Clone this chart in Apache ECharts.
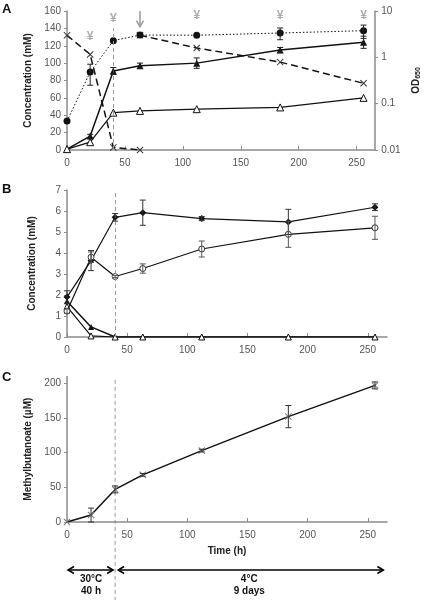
<!DOCTYPE html>
<html>
<head>
<meta charset="utf-8">
<script src="https://cdn.jsdelivr.net/npm/echarts@6/dist/echarts.min.js"></script>
<style>
html,body{margin:0;padding:0;background:#fff;}
#c{width:430px;height:600px;}
</style>
</head>
<body>
<div id="c"></div>
<script>
// ---------- DATA ----------
const hours = [0, 20, 40, 63, 112, 184, 256];
const xTicks = [0, 50, 100, 150, 200, 250];

// Panel A (mM, left axis)
const aFilledTri = [1, 16, 91, 97, 100, 115, 124];
const aFilledTriErr = [0, 2, 4, 3, 6, 3, 7];
const aOpenTri = [1, 9, 43, 45, 47, 49, 60];
const aCrossHours = [0, 20, 40, 63];
const aCross = [132, 110, 3, 0];
// Panel A (OD650, right log axis)
const aOD = [0.042, 0.48, 2.29, 3.03, 3.0, 3.35, 3.76];
const aODErr = [0, 0.23, 0, 0, 0, 0.95, 1.2];
const aODCrossHours = [63, 112, 184, 256];
const aODCross = [3.0, 1.59, 0.79, 0.275];
const aYTicks = [0, 20, 40, 60, 80, 100, 120, 140, 160];
const aMarkHours = [20, 40, 112, 184, 256];
const aMarkLevel = [130, 151, 155, 155, 155];
const aArrowHour = 63;

// Panel B (mM)
const bFilled = [1.9, 3.64, 5.7, 5.92, 5.64, 5.48, 6.18];
const bFilledErr = [0.3, 0.48, 0.18, 0.6, 0.1, 0.6, 0.16];
const bOpen = [1.23, 3.8, 2.88, 3.26, 4.19, 4.89, 5.2];
const bOpenErr = [0.1, 0.25, 0.05, 0.22, 0.38, 0.62, 0.55];
const bFilledTri = [1.7, 0.48, 0, 0, 0, 0, 0];
const bOpenTri = [1.45, 0.05, 0, 0, 0, 0, 0];
const bYTicks = [0, 1, 2, 3, 4, 5, 6, 7];

// Panel C (µM)
const cMethyl = [0, 10, 47, 68, 103, 152, 197];
const cMethylErr = [0, 10, 5, 2, 2, 16, 5];
const cYTicks = [0, 50, 100, 150, 200];

const shiftHour = 40;

// ---------- STYLE ----------
const FONT = 'Liberation Sans, Arial, sans-serif';
const AX = '#8c8c8c';
const TXT = '#555';
const INK = '#111';
const crossPath = 'path://M0,1L1,0L5,4L9,0L10,1L6,5L10,9L9,10L5,6L1,10L0,9L4,5Z';

function pairs(xs, ys) { return xs.map((x, i) => [x, ys[i]]); }

function errSeries(xi, yi, xs, ys, es, color) {
  const data = xs.map((x, i) => [x, ys[i], es[i]]).filter(d => d[2] > 0);
  return {
    type: 'custom', xAxisIndex: xi, yAxisIndex: yi, z: 5,
    encode: { x: 0, y: 1 }, silent: true,
    data: data,
    renderItem: function (params, api) {
      const x = api.value(0), y = api.value(1), e = api.value(2);
      const p1 = api.coord([x, y + e]);
      const p2 = api.coord([x, y - e]);
      const st = { stroke: color, lineWidth: 1 };
      return { type: 'group', children: [
        { type: 'line', shape: { x1: p1[0], y1: p1[1], x2: p2[0], y2: p2[1] }, style: st },
        { type: 'line', shape: { x1: p1[0] - 3, y1: p1[1], x2: p1[0] + 3, y2: p1[1] }, style: st },
        { type: 'line', shape: { x1: p2[0] - 3, y1: p2[1], x2: p2[0] + 3, y2: p2[1] }, style: st }
      ]};
    }
  };
}

function xAxisDef(gi, withName) {
  const o = {
    type: 'value', gridIndex: gi, min: 0, max: 266, interval: 50,
    axisLine: { lineStyle: { color: AX, width: 1.5 } },
    axisTick: { inside: true, length: 4, customValues: xTicks, lineStyle: { color: AX } },
    axisLabel: { customValues: xTicks, color: TXT, fontFamily: FONT, fontSize: 10, margin: 8 },
    splitLine: { show: false }
  };
  if (withName) {
    o.name = 'Time (h)'; o.nameLocation = 'middle'; o.nameGap = 24;
    o.nameTextStyle = { fontFamily: FONT, fontSize: 10, fontWeight: 'bold', color: '#222' };
  }
  return o;
}

function yAxisDef(gi, max, ticks, name, gap) {
  return {
    type: 'value', gridIndex: gi, min: 0, max: max,
    axisLine: { show: true, lineStyle: { color: AX, width: 1.5 } },
    axisTick: { show: true, length: 3, customValues: ticks, lineStyle: { color: AX } },
    axisLabel: { customValues: ticks, color: TXT, fontFamily: FONT, fontSize: 10, margin: 6 },
    splitLine: { show: false },
    name: name, nameLocation: 'middle', nameGap: gap, nameRotate: 90,
    nameTextStyle: { fontFamily: FONT, fontSize: 10, fontWeight: 'bold', color: '#222' }
  };
}

const chart = echarts.init(document.getElementById('c'), null, { renderer: 'canvas' });

const grids = [
  { left: 67, right: 43, top: 11, height: 139 },
  { left: 67, right: 43, top: 190, height: 147 },
  { left: 67, right: 43, top: 376.4, height: 145.6 }
];

const yAxes = [
  yAxisDef(0, 160, aYTicks, 'Concentration (mM)', 30),
  {
    type: 'log', logBase: 10, gridIndex: 0, min: 0.01, max: 10, position: 'right',
    axisLine: { show: true, lineStyle: { color: AX, width: 1.5 } },
    axisTick: { show: true, length: 3, lineStyle: { color: AX } },
    axisLabel: { color: TXT, fontFamily: FONT, fontSize: 10, margin: 6,
      formatter: v => String(+v.toPrecision(2)) },
    splitLine: { show: false },
    name: '{o|OD}{s|650}', nameLocation: 'middle', nameGap: 33, nameRotate: 90,
    nameTextStyle: { rich: {
      o: { fontFamily: FONT, fontSize: 10, fontWeight: 'bold', color: '#222' },
      s: { fontFamily: FONT, fontSize: 7, fontWeight: 'bold', color: '#222', verticalAlign: 'bottom', padding: [4, 0, 0, 0] }
    } }
  },
  yAxisDef(1, 7, bYTicks, 'Concentration (mM)', 30),
  yAxisDef(2, 210, cYTicks, 'Methylbutanoate (µM)', 32)
];

const vDash = (yMax) => ({
  silent: true, symbol: 'none', label: { show: false },
  lineStyle: { color: '#9a9a9a', type: [4, 3], width: 1 },
  data: [[{ coord: [shiftHour, 0] }, { coord: [shiftHour, yMax] }]]
});

const series = [
  // Panel A
  { type: 'line', xAxisIndex: 0, yAxisIndex: 0, data: pairs(aCrossHours, aCross),
    symbol: crossPath, symbolSize: 7, itemStyle: { color: '#333' },
    lineStyle: { color: INK, width: 1.5, type: [7, 4] }, z: 3,
    markLine: vDash(140) },
  { type: 'line', xAxisIndex: 0, yAxisIndex: 1, data: pairs(aODCrossHours, aODCross),
    symbol: crossPath, symbolSize: 7, itemStyle: { color: '#333' },
    lineStyle: { color: INK, width: 1.5, type: [7, 4] }, z: 3 },
  { type: 'line', xAxisIndex: 0, yAxisIndex: 1, data: pairs(hours, aOD),
    symbol: 'circle', symbolSize: 7, itemStyle: { color: INK },
    lineStyle: { color: INK, width: 1, type: [1.5, 2] }, z: 4 },
  { type: 'line', xAxisIndex: 0, yAxisIndex: 0, data: pairs(hours, aFilledTri),
    symbol: 'triangle', symbolSize: 7, itemStyle: { color: INK },
    lineStyle: { color: INK, width: 1.5 }, z: 4 },
  { type: 'line', xAxisIndex: 0, yAxisIndex: 0, data: pairs(hours, aOpenTri),
    symbol: 'triangle', symbolSize: 7, itemStyle: { color: '#fff', borderColor: INK, borderWidth: 1 },
    lineStyle: { color: INK, width: 1.2 }, z: 4 },
  errSeries(0, 0, hours, aFilledTri, aFilledTriErr, '#222'),
  errSeries(0, 1, hours, aOD, aODErr, '#222'),
  { type: 'scatter', xAxisIndex: 0, yAxisIndex: 0, data: pairs(aMarkHours, aMarkLevel),
    symbolSize: 1, itemStyle: { color: 'rgba(0,0,0,0)' }, silent: true,
    label: { show: true, position: 'inside', formatter: '¥', color: '#999',
      fontFamily: FONT, fontSize: 12, fontWeight: 'bold' } },

  // Panel B
  { type: 'line', xAxisIndex: 1, yAxisIndex: 2, data: pairs(hours, bFilledTri),
    symbol: 'triangle', symbolSize: 6, itemStyle: { color: INK },
    lineStyle: { color: INK, width: 1.5 }, z: 3, markLine: vDash(7) },
  { type: 'line', xAxisIndex: 1, yAxisIndex: 2, data: pairs(hours, bOpenTri),
    symbol: 'triangle', symbolSize: 6, itemStyle: { color: '#fff', borderColor: INK, borderWidth: 1 },
    lineStyle: { color: INK, width: 1.2 }, z: 3 },
  { type: 'line', xAxisIndex: 1, yAxisIndex: 2, data: pairs(hours, bFilled),
    symbol: 'diamond', symbolSize: 7, itemStyle: { color: INK },
    lineStyle: { color: INK, width: 1.2 }, z: 4 },
  { type: 'line', xAxisIndex: 1, yAxisIndex: 2, data: pairs(hours, bOpen),
    symbol: 'circle', symbolSize: 6, itemStyle: { color: '#fff', borderColor: '#333', borderWidth: 1 },
    lineStyle: { color: INK, width: 1.2 }, z: 4 },
  errSeries(1, 2, hours, bFilled, bFilledErr, '#333'),
  errSeries(1, 2, hours, bOpen, bOpenErr, '#555'),

  // Panel C
  { type: 'line', xAxisIndex: 2, yAxisIndex: 3, data: pairs(hours, cMethyl),
    symbol: crossPath, symbolSize: 7, itemStyle: { color: '#777' },
    lineStyle: { color: INK, width: 1.5 }, z: 4 },
  errSeries(2, 3, hours, cMethyl, cMethylErr, '#333')
];

chart.setOption({
  animation: false,
  backgroundColor: '#fff',
  textStyle: { fontFamily: FONT },
  grid: grids,
  xAxis: [xAxisDef(0, false), xAxisDef(1, false), xAxisDef(2, true)],
  yAxis: yAxes,
  series: series
});

// ---------- annotations positioned from the axes ----------
const pc40Top = chart.convertToPixel({ gridIndex: 2 }, [shiftHour, 205]);
const pc0 = chart.convertToPixel({ gridIndex: 2 }, [0, 0]);
const pc40 = chart.convertToPixel({ gridIndex: 2 }, [shiftHour, 0]);
const pcEnd = chart.convertToPixel({ gridIndex: 2 }, [263, 0]);
const ay = pc0[1] + 48;
const arTop = chart.convertToPixel({ gridIndex: 0 }, [aArrowHour, 160]);
const arTip = chart.convertToPixel({ gridIndex: 0 }, [aArrowHour, 142]);

function dblArrow(x1, x2, y) {
  const st = { stroke: '#000', lineWidth: 1.5 };
  const h = 6, v = 3.5;
  return [
    { type: 'line', shape: { x1: x1, y1: y, x2: x2, y2: y }, style: st },
    { type: 'polyline', shape: { points: [[x1 + h, y - v], [x1, y], [x1 + h, y + v]] }, style: Object.assign({ fill: null }, st) },
    { type: 'polyline', shape: { points: [[x2 - h, y - v], [x2, y], [x2 - h, y + v]] }, style: Object.assign({ fill: null }, st) }
  ];
}
function txt(t, x, y, size, weight, color) {
  return { type: 'text', x: x, y: y, style: { text: t, textAlign: 'center', textVerticalAlign: 'middle',
    font: (weight || 'bold') + ' ' + (size || 10) + 'px ' + FONT, fill: color || '#111' } };
}

const gfx = [
  { type: 'line', shape: { x1: pc40Top[0], y1: pc40Top[1], x2: pc40Top[0], y2: 600 },
    style: { stroke: '#9a9a9a', lineWidth: 1, lineDash: [4, 3] } },
  { type: 'line', shape: { x1: arTop[0], y1: arTop[1], x2: arTip[0], y2: arTip[1] - 1 },
    style: { stroke: '#999', lineWidth: 1.5 } },
  { type: 'polyline', shape: { points: [[arTip[0] - 3.5, arTip[1] - 6], [arTip[0], arTip[1]], [arTip[0] + 3.5, arTip[1] - 6]] },
    style: { stroke: '#999', lineWidth: 1.5, fill: null } }
]
.concat(dblArrow(pc0[0] + 1, pc40[0] - 2, ay))
.concat(dblArrow(pc40[0] + 3, pcEnd[0], ay))
.concat([
  txt('30°C', (pc0[0] + pc40[0]) / 2, ay + 9),
  txt('40 h', (pc0[0] + pc40[0]) / 2, ay + 21),
  txt('4°C', (pc40[0] + pcEnd[0]) / 2, ay + 9),
  txt('9 days', (pc40[0] + pcEnd[0]) / 2, ay + 21),
  { type: 'text', x: 2, y: 3, style: { text: 'A', font: 'bold 13px ' + FONT, fill: '#111' } },
  { type: 'text', x: 2, y: 183, style: { text: 'B', font: 'bold 13px ' + FONT, fill: '#111' } },
  { type: 'text', x: 2, y: 371, style: { text: 'C', font: 'bold 13px ' + FONT, fill: '#111' } }
]);

chart.setOption({ graphic: gfx });
</script>
</body>
</html>
